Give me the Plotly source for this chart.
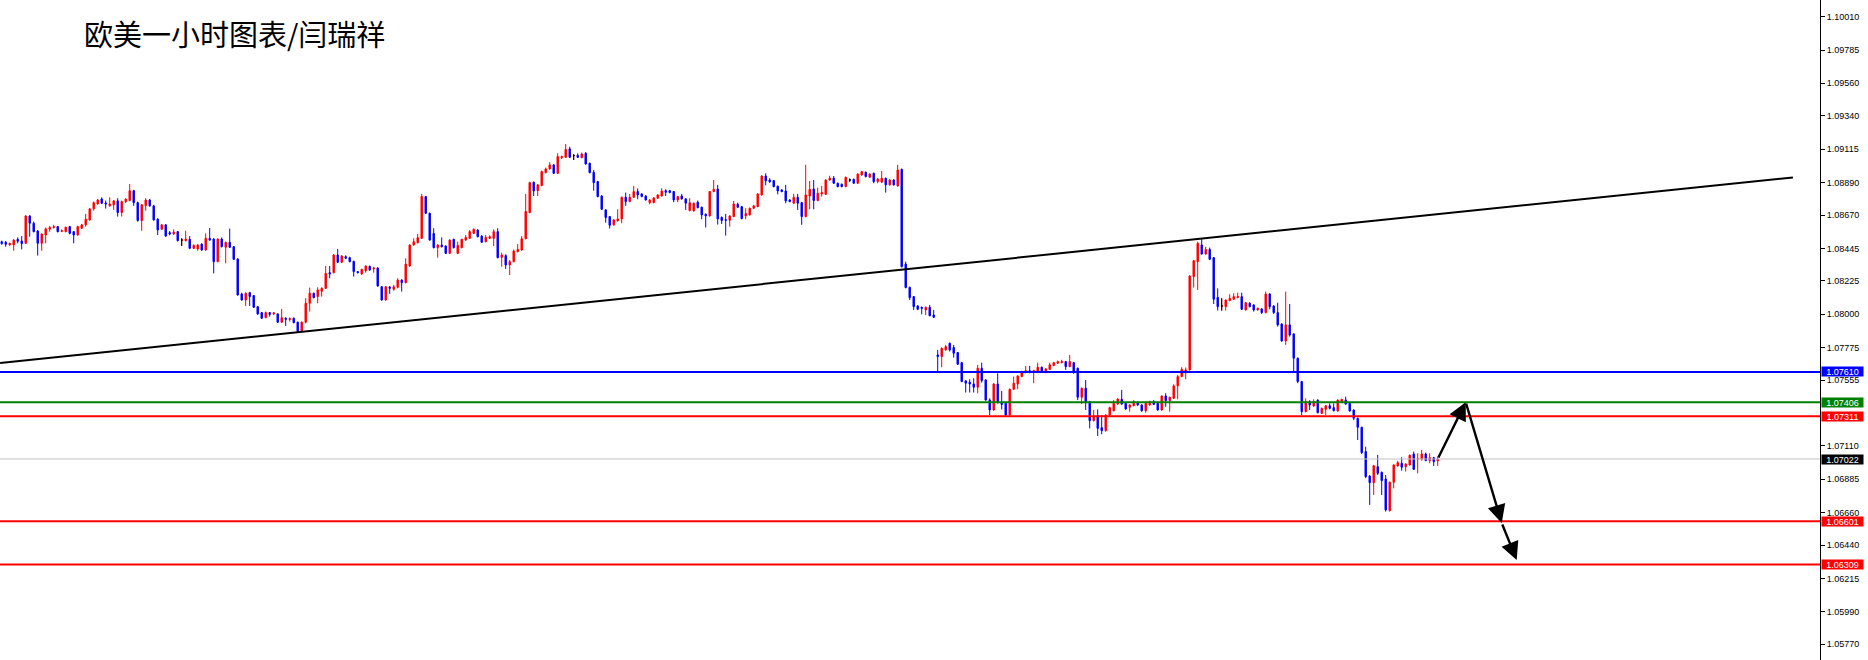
import plotly.graph_objects as go

# ---------------- data (EUR/USD H1) ----------------
opens = [
1.08490,1.08486,1.08468,1.08468,1.08506,1.08495,1.08479,1.08664,1.08615,1.08562,
1.08479,1.08535,1.08574,1.08586,1.08592,1.08560,1.08558,1.08592,1.08558,1.08535,
1.08581,1.08604,1.08637,1.08712,1.08745,1.08779,1.08752,1.08732,1.08739,1.08766,
1.08687,1.08761,1.08768,1.08835,1.08754,1.08633,1.08734,1.08772,1.08732,1.08642,
1.08574,1.08604,1.08551,1.08542,1.08558,1.08501,1.08497,1.08506,1.08445,1.08441,
1.08474,1.08434,1.08513,1.08508,1.08355,1.08508,1.08452,1.08486,1.08456,1.08373,
1.08137,1.08096,1.08146,1.08126,1.08051,1.08011,1.07977,1.08011,1.08002,1.08002,
1.07946,1.07973,1.07964,1.07973,1.07946,1.07883,1.07946,1.08074,1.08142,1.08119,
1.08155,1.08175,1.08281,1.08281,1.08400,1.08351,1.08389,1.08382,1.08357,1.08288,
1.08272,1.08294,1.08324,1.08306,1.08312,1.08186,1.08096,1.08184,1.08168,1.08182,
1.08231,1.08213,1.08326,1.08468,1.08483,1.08513,1.08795,1.08682,1.08546,1.08450,
1.08468,1.08461,1.08411,1.08506,1.08411,1.08450,1.08501,1.08513,1.08546,1.08569,
1.08528,1.08490,1.08513,1.08513,1.08558,1.08384,1.08396,1.08333,1.08355,1.08423,
1.08434,1.08510,1.08687,1.08892,1.08835,1.08869,1.08957,1.08982,1.09009,1.08952,
1.09058,1.09060,1.09117,1.09072,1.09074,1.09058,1.09087,1.09020,1.08959,1.08896,
1.08799,1.08705,1.08660,1.08604,1.08631,1.08644,1.08790,1.08761,1.08790,1.08829,
1.08813,1.08799,1.08754,1.08754,1.08784,1.08799,1.08835,1.08835,1.08829,1.08772,
1.08799,1.08779,1.08700,1.08698,1.08757,1.08723,1.08676,1.08664,1.08829,1.08846,
1.08655,1.08639,1.08635,1.08660,1.08743,1.08727,1.08664,1.08671,1.08716,1.08727,
1.08806,1.08934,1.08907,1.08903,1.08865,1.08840,1.08833,1.08772,1.08750,1.08790,
1.08754,1.08660,1.08799,1.08846,1.08768,1.08813,1.08810,1.08907,1.08919,1.08885,
1.08878,1.08862,1.08907,1.08912,1.08885,1.08941,1.08959,1.08925,1.08952,1.08896,
1.08892,1.08919,1.08874,1.08907,1.08867,1.08979,1.08339,1.08182,1.08119,1.08056,
1.08047,1.08029,1.08047,1.07995,1.07725,1.07714,1.07759,1.07804,1.07775,1.07741,
1.07673,1.07550,1.07541,1.07529,1.07507,1.07635,1.07556,1.07420,1.07353,1.07529,
1.07402,1.07398,1.07319,1.07493,1.07529,1.07579,1.07606,1.07619,1.07613,1.07613,
1.07642,1.07613,1.07628,1.07653,1.07669,1.07673,1.07680,1.07646,1.07673,1.07635,
1.07439,1.07500,1.07409,1.07281,1.07315,1.07234,1.07213,1.07319,1.07348,1.07393,
1.07425,1.07398,1.07371,1.07382,1.07402,1.07387,1.07348,1.07387,1.07409,1.07398,
1.07353,1.07448,1.07416,1.07432,1.07516,1.07579,1.07610,1.07624,1.08254,1.08355,
1.08468,1.08407,1.08438,1.08382,1.08114,1.08056,1.08051,1.08092,1.08101,1.08112,
1.08119,1.08029,1.08074,1.08063,1.08029,1.08036,1.08011,1.08137,1.08056,1.08011,
1.07934,1.07819,1.07928,1.07867,1.07703,1.07545,1.07342,1.07409,1.07380,1.07420,
1.07330,1.07357,1.07382,1.07369,1.07346,1.07409,1.07420,1.07398,1.07353,1.07297,
1.07236,1.07072,1.06907,1.06862,1.06970,1.06932,1.06887,1.06673,1.06865,1.06975,
1.06993,1.06970,1.06982,1.07056,1.07020,1.07020,1.07056,1.07011,1.07031,1.07009]

highs = [
1.08497,1.08495,1.08483,1.08508,1.08519,1.08528,1.08669,1.08669,1.08626,1.08569,
1.08546,1.08586,1.08597,1.08604,1.08597,1.08574,1.08590,1.08597,1.08562,1.08597,
1.08610,1.08678,1.08716,1.08761,1.08779,1.08790,1.08768,1.08790,1.08772,1.08784,
1.08768,1.08784,1.08880,1.08840,1.08761,1.08745,1.08784,1.08779,1.08739,1.08649,
1.08608,1.08608,1.08562,1.08574,1.08562,1.08513,1.08564,1.08528,1.08472,1.08474,
1.08479,1.08546,1.08583,1.08513,1.08513,1.08519,1.08490,1.08579,1.08461,1.08378,
1.08146,1.08148,1.08151,1.08130,1.08056,1.08015,1.08018,1.08015,1.08015,1.08006,
1.08036,1.07979,1.07979,1.07977,1.07950,1.07952,1.08108,1.08180,1.08146,1.08182,
1.08182,1.08326,1.08326,1.08407,1.08441,1.08400,1.08398,1.08389,1.08362,1.08292,
1.08308,1.08330,1.08328,1.08321,1.08317,1.08191,1.08191,1.08191,1.08198,1.08243,
1.08236,1.08378,1.08472,1.08513,1.08542,1.08813,1.08799,1.08687,1.08581,1.08472,
1.08519,1.08465,1.08506,1.08510,1.08490,1.08510,1.08535,1.08569,1.08579,1.08574,
1.08533,1.08535,1.08533,1.08574,1.08581,1.08416,1.08405,1.08367,1.08438,1.08474,
1.08528,1.08813,1.08896,1.08896,1.08880,1.08970,1.08991,1.09027,1.09013,1.09087,
1.09072,1.09150,1.09132,1.09081,1.09087,1.09092,1.09096,1.09024,1.08975,1.08901,
1.08804,1.08709,1.08664,1.08642,1.08709,1.08795,1.08822,1.08813,1.08867,1.08849,
1.08817,1.08804,1.08777,1.08790,1.08810,1.08851,1.08844,1.08840,1.08833,1.08799,
1.08813,1.08784,1.08784,1.08754,1.08768,1.08727,1.08680,1.08833,1.08907,1.08874,
1.08660,1.08678,1.08669,1.08766,1.08754,1.08732,1.08716,1.08720,1.08739,1.08817,
1.08939,1.08952,1.08919,1.08907,1.08869,1.08844,1.08874,1.08777,1.08813,1.08813,
1.08759,1.09009,1.08901,1.08907,1.08856,1.08867,1.08912,1.08936,1.08934,1.08889,
1.08883,1.08930,1.08916,1.08916,1.08952,1.08968,1.08964,1.08952,1.08957,1.08919,
1.08968,1.08923,1.08912,1.08912,1.09009,1.08984,1.08355,1.08186,1.08123,1.08060,
1.08051,1.08051,1.08063,1.08029,1.07759,1.07775,1.07793,1.07808,1.07793,1.07745,
1.07678,1.07554,1.07561,1.07568,1.07658,1.07673,1.07561,1.07432,1.07534,1.07601,
1.07482,1.07402,1.07498,1.07579,1.07588,1.07619,1.07651,1.07651,1.07624,1.07673,
1.07646,1.07635,1.07673,1.07678,1.07687,1.07692,1.07685,1.07725,1.07678,1.07640,
1.07505,1.07556,1.07414,1.07353,1.07357,1.07319,1.07324,1.07375,1.07420,1.07432,
1.07489,1.07402,1.07391,1.07420,1.07409,1.07391,1.07402,1.07416,1.07420,1.07402,
1.07452,1.07466,1.07443,1.07527,1.07590,1.07642,1.07640,1.08263,1.08367,1.08490,
1.08513,1.08456,1.08450,1.08387,1.08175,1.08108,1.08101,1.08135,1.08142,1.08146,
1.08146,1.08083,1.08081,1.08067,1.08045,1.08040,1.08153,1.08142,1.08060,1.08078,
1.07939,1.08153,1.08069,1.07871,1.07707,1.07550,1.07432,1.07420,1.07425,1.07425,
1.07369,1.07387,1.07398,1.07398,1.07425,1.07429,1.07443,1.07402,1.07357,1.07301,
1.07240,1.07105,1.06912,1.06982,1.07050,1.06937,1.06914,1.06869,1.06986,1.07009,
1.07034,1.06993,1.07052,1.07072,1.07061,1.07083,1.07065,1.07061,1.07036,1.07038]

lows = [
1.08470,1.08456,1.08463,1.08429,1.08479,1.08438,1.08475,1.08524,1.08553,1.08396,
1.08429,1.08479,1.08558,1.08579,1.08553,1.08555,1.08553,1.08540,1.08479,1.08531,
1.08577,1.08592,1.08633,1.08700,1.08741,1.08745,1.08714,1.08727,1.08705,1.08660,
1.08660,1.08750,1.08763,1.08732,1.08626,1.08564,1.08700,1.08727,1.08633,1.08535,
1.08569,1.08524,1.08533,1.08537,1.08492,1.08461,1.08492,1.08441,1.08441,1.08429,
1.08429,1.08429,1.08497,1.08276,1.08351,1.08452,1.08344,1.08447,1.08367,1.08126,
1.08092,1.08056,1.08056,1.08042,1.07997,1.07968,1.07973,1.07984,1.07995,1.07941,
1.07941,1.07921,1.07950,1.07939,1.07878,1.07878,1.07939,1.08018,1.08108,1.08074,
1.08119,1.08171,1.08243,1.08276,1.08346,1.08346,1.08373,1.08351,1.08254,1.08276,
1.08267,1.08281,1.08294,1.08281,1.08186,1.08092,1.08092,1.08137,1.08159,1.08175,
1.08153,1.08209,1.08321,1.08463,1.08479,1.08508,1.08678,1.08497,1.08445,1.08382,
1.08452,1.08407,1.08407,1.08445,1.08407,1.08445,1.08497,1.08508,1.08542,1.08519,
1.08481,1.08486,1.08508,1.08461,1.08378,1.08321,1.08306,1.08265,1.08351,1.08418,
1.08429,1.08506,1.08682,1.08799,1.08799,1.08865,1.08952,1.08977,1.08947,1.08947,
1.09049,1.09056,1.09056,1.09042,1.09056,1.09054,1.09011,1.08952,1.08835,1.08790,
1.08705,1.08619,1.08579,1.08599,1.08626,1.08615,1.08732,1.08757,1.08786,1.08777,
1.08790,1.08768,1.08743,1.08750,1.08779,1.08795,1.08799,1.08817,1.08757,1.08757,
1.08775,1.08705,1.08696,1.08694,1.08716,1.08642,1.08586,1.08660,1.08824,1.08606,
1.08610,1.08531,1.08592,1.08655,1.08718,1.08642,1.08642,1.08667,1.08712,1.08723,
1.08802,1.08871,1.08889,1.08858,1.08810,1.08824,1.08750,1.08757,1.08745,1.08705,
1.08604,1.08655,1.08709,1.08709,1.08763,1.08795,1.08806,1.08903,1.08880,1.08858,
1.08858,1.08858,1.08896,1.08880,1.08880,1.08936,1.08925,1.08921,1.08885,1.08885,
1.08887,1.08822,1.08869,1.08869,1.08862,1.08317,1.08175,1.08096,1.08029,1.08029,
1.07999,1.07995,1.07986,1.07975,1.07613,1.07642,1.07754,1.07748,1.07707,1.07658,
1.07541,1.07471,1.07471,1.07471,1.07466,1.07538,1.07416,1.07319,1.07348,1.07398,
1.07357,1.07315,1.07315,1.07489,1.07493,1.07574,1.07601,1.07601,1.07534,1.07608,
1.07613,1.07601,1.07624,1.07649,1.07664,1.07669,1.07624,1.07642,1.07597,1.07420,
1.07393,1.07353,1.07229,1.07276,1.07177,1.07189,1.07207,1.07315,1.07344,1.07389,
1.07389,1.07355,1.07342,1.07378,1.07382,1.07342,1.07335,1.07382,1.07387,1.07348,
1.07348,1.07375,1.07342,1.07427,1.07425,1.07574,1.07561,1.07619,1.08180,1.08164,
1.08403,1.08403,1.08367,1.08069,1.08025,1.08025,1.08025,1.08087,1.08096,1.08108,
1.08029,1.08025,1.08047,1.08018,1.08025,1.08002,1.08006,1.08033,1.08002,1.07916,
1.07815,1.07793,1.07849,1.07613,1.07534,1.07319,1.07337,1.07353,1.07375,1.07330,
1.07326,1.07319,1.07357,1.07344,1.07342,1.07405,1.07389,1.07342,1.07285,1.07150,
1.07056,1.06892,1.06712,1.06779,1.06914,1.06779,1.06667,1.06667,1.06824,1.06970,
1.06943,1.06937,1.06977,1.06948,1.06925,1.07011,1.07007,1.06993,1.06975,1.06975]

closes = [
1.08477,1.08472,1.08479,1.08501,1.08493,1.08477,1.08664,1.08615,1.08558,1.08479,
1.08542,1.08577,1.08586,1.08592,1.08558,1.08564,1.08588,1.08546,1.08535,1.08592,
1.08604,1.08642,1.08712,1.08754,1.08772,1.08750,1.08745,1.08745,1.08766,1.08687,
1.08761,1.08777,1.08835,1.08754,1.08633,1.08739,1.08772,1.08732,1.08637,1.08569,
1.08604,1.08528,1.08542,1.08555,1.08497,1.08501,1.08508,1.08445,1.08465,1.08468,
1.08434,1.08513,1.08501,1.08355,1.08508,1.08456,1.08486,1.08452,1.08371,1.08130,
1.08096,1.08142,1.08119,1.08047,1.08002,1.07973,1.08011,1.07999,1.08009,1.07946,
1.07977,1.07966,1.07970,1.07943,1.07883,1.07946,1.08074,1.08142,1.08112,1.08164,
1.08175,1.08276,1.08272,1.08400,1.08351,1.08393,1.08378,1.08355,1.08288,1.08281,
1.08303,1.08326,1.08299,1.08312,1.08191,1.08096,1.08186,1.08175,1.08186,1.08231,
1.08213,1.08339,1.08468,1.08490,1.08517,1.08795,1.08682,1.08501,1.08450,1.08468,
1.08456,1.08411,1.08501,1.08450,1.08465,1.08506,1.08519,1.08558,1.08574,1.08524,
1.08486,1.08519,1.08524,1.08558,1.08382,1.08400,1.08333,1.08355,1.08427,1.08438,
1.08510,1.08694,1.08889,1.08833,1.08874,1.08964,1.08982,1.09009,1.08952,1.09065,
1.09065,1.09114,1.09060,1.09072,1.09060,1.09083,1.09015,1.08957,1.08889,1.08795,
1.08709,1.08653,1.08601,1.08637,1.08644,1.08790,1.08761,1.08790,1.08829,1.08806,
1.08795,1.08772,1.08772,1.08786,1.08806,1.08833,1.08824,1.08822,1.08772,1.08795,
1.08779,1.08750,1.08754,1.08750,1.08720,1.08671,1.08664,1.08829,1.08844,1.08644,
1.08633,1.08635,1.08664,1.08745,1.08723,1.08646,1.08680,1.08716,1.08732,1.08813,
1.08934,1.08901,1.08894,1.08862,1.08833,1.08829,1.08766,1.08761,1.08790,1.08750,
1.08660,1.08806,1.08844,1.08768,1.08817,1.08822,1.08907,1.08919,1.08885,1.08862,
1.08862,1.08925,1.08907,1.08885,1.08947,1.08964,1.08930,1.08947,1.08896,1.08914,
1.08919,1.08874,1.08907,1.08874,1.08975,1.08321,1.08180,1.08112,1.08051,1.08033,
1.08040,1.08047,1.07990,1.07979,1.07714,1.07770,1.07781,1.07759,1.07736,1.07662,
1.07545,1.07534,1.07529,1.07507,1.07635,1.07552,1.07420,1.07353,1.07529,1.07402,
1.07391,1.07319,1.07493,1.07534,1.07583,1.07606,1.07619,1.07608,1.07619,1.07642,
1.07617,1.07631,1.07658,1.07673,1.07680,1.07680,1.07646,1.07680,1.07613,1.07439,
1.07500,1.07402,1.07281,1.07312,1.07229,1.07213,1.07319,1.07369,1.07398,1.07427,
1.07393,1.07360,1.07387,1.07409,1.07387,1.07348,1.07398,1.07409,1.07391,1.07353,
1.07448,1.07416,1.07439,1.07516,1.07579,1.07628,1.07624,1.08258,1.08362,1.08479,
1.08407,1.08438,1.08371,1.08101,1.08051,1.08056,1.08096,1.08108,1.08119,1.08119,
1.08033,1.08078,1.08051,1.08029,1.08040,1.08011,1.08137,1.08051,1.08011,1.07928,
1.07819,1.07928,1.07860,1.07703,1.07545,1.07342,1.07409,1.07387,1.07409,1.07335,
1.07364,1.07382,1.07364,1.07348,1.07420,1.07425,1.07393,1.07346,1.07297,1.07236,
1.07065,1.06903,1.06862,1.06977,1.06925,1.06876,1.06678,1.06865,1.06982,1.06997,
1.06966,1.06988,1.07047,1.06952,1.07025,1.07056,1.07011,1.07031,1.07004,1.07022]

bars = list(range(len(closes)))

# trend line drawn on the chart (bar index, price)
trend_x = [-0.4, 447.8]
trend_y = [1.07671, 1.08924]

# horizontal price levels
levels = [1.07610, 1.07406, 1.07311, 1.07022, 1.06601, 1.06309]
level_line_colors = ["#0000ff", "#008000", "#ff0000", "#c0c0c0", "#ff0000", "#ff0000"]
level_tag_colors = ["#0000ff", "#008000", "#ff0000", "#000000", "#ff0000", "#ff0000"]
level_widths = [2, 2, 2, 1, 2, 2]

# projected path arrows (bar index, price)
path_x = [359, 366.0, 375.0, 378.75]
path_y = [1.07022, 1.07406, 1.06590, 1.06340]

# right axis tick labels
tick_vals = [1.10010, 1.09785, 1.09560, 1.09340, 1.09115, 1.08890, 1.08670, 1.08445,
             1.08225, 1.08000, 1.07775, 1.07555, 1.07110, 1.06885, 1.06660, 1.06440,
             1.06215, 1.05990, 1.05770]
tick_text = ["%.5f" % v for v in tick_vals]

title_text = "欧美一小时图表/闫瑞祥"

# ---------------- figure ----------------
fig = go.Figure()

fig.add_trace(go.Candlestick(
    x=bars, open=opens, high=highs, low=lows, close=closes,
    increasing=dict(line=dict(color="#ff0000", width=1), fillcolor="#ff0000"),
    decreasing=dict(line=dict(color="#0000ff", width=1), fillcolor="#0000ff"),
    whiskerwidth=0, hoverinfo="skip", showlegend=False,
))

doji = [i for i in bars if opens[i] == closes[i]]
fig.add_trace(go.Candlestick(
    x=[bars[i] for i in doji], open=[opens[i] for i in doji], high=[highs[i] for i in doji],
    low=[lows[i] for i in doji], close=[closes[i] for i in doji],
    increasing=dict(line=dict(color="#000000", width=1), fillcolor="#000000"),
    decreasing=dict(line=dict(color="#000000", width=1), fillcolor="#000000"),
    whiskerwidth=0, hoverinfo="skip", showlegend=False,
))

fig.add_trace(go.Scatter(x=trend_x, y=trend_y, mode="lines",
                         line=dict(color="#000000", width=2),
                         hoverinfo="skip", showlegend=False))

shapes = []
annotations = []
for lv, lc, tc, w in zip(levels, level_line_colors, level_tag_colors, level_widths):
    shapes.append(dict(type="line", xref="paper", x0=0, x1=1, yref="y", y0=lv, y1=lv,
                       line=dict(color=lc, width=w), layer="above"))
    annotations.append(dict(xref="paper", x=1, xanchor="left", xshift=1,
                            yref="y", y=lv, yanchor="middle",
                            text="%.5f" % lv, showarrow=False,
                            font=dict(family="Liberation Sans", size=9, color="#ffffff"),
                            bgcolor=tc, width=39, height=7, borderpad=1, align="center"))

for k in range(len(path_x) - 1):
    annotations.append(dict(x=path_x[k + 1], y=path_y[k + 1], xref="x", yref="y",
                            ax=path_x[k], ay=path_y[k], axref="x", ayref="y",
                            showarrow=True, arrowhead=2, arrowsize=1.5, arrowwidth=2.4,
                            arrowcolor="#000000", standoff=0, startstandoff=0, text=""))

annotations.append(dict(xref="paper", yref="paper", x=82 / 1820, y=1 - 33 / 660,
                        xanchor="left", yanchor="middle", text=title_text, showarrow=False,
                        font=dict(family="Noto Sans CJK SC", size=29, color="#000000")))

fig.update_layout(
    width=1868, height=660,
    margin=dict(l=0, r=48, t=0, b=0),
    paper_bgcolor="#ffffff", plot_bgcolor="#ffffff",
    boxgap=0.5,
    showlegend=False,
    shapes=shapes, annotations=annotations,
    xaxis=dict(range=[-0.425, 454.575], visible=False, rangeslider=dict(visible=False),
               fixedrange=True),
    yaxis=dict(range=[1.05664, 1.10123], side="right", tickvals=tick_vals, ticktext=tick_text,
               ticks="outside", ticklen=4, tickcolor="#000000", tickwidth=1,
               showline=True, linecolor="#000000", linewidth=1, showgrid=False, zeroline=False,
               tickfont=dict(family="Liberation Sans", size=9, color="#000000"),
               fixedrange=True),
)

fig.write_html("out.html", config={"displayModeBar": False},
               post_script="document.body.style.margin='0';document.body.style.overflow='hidden';")
